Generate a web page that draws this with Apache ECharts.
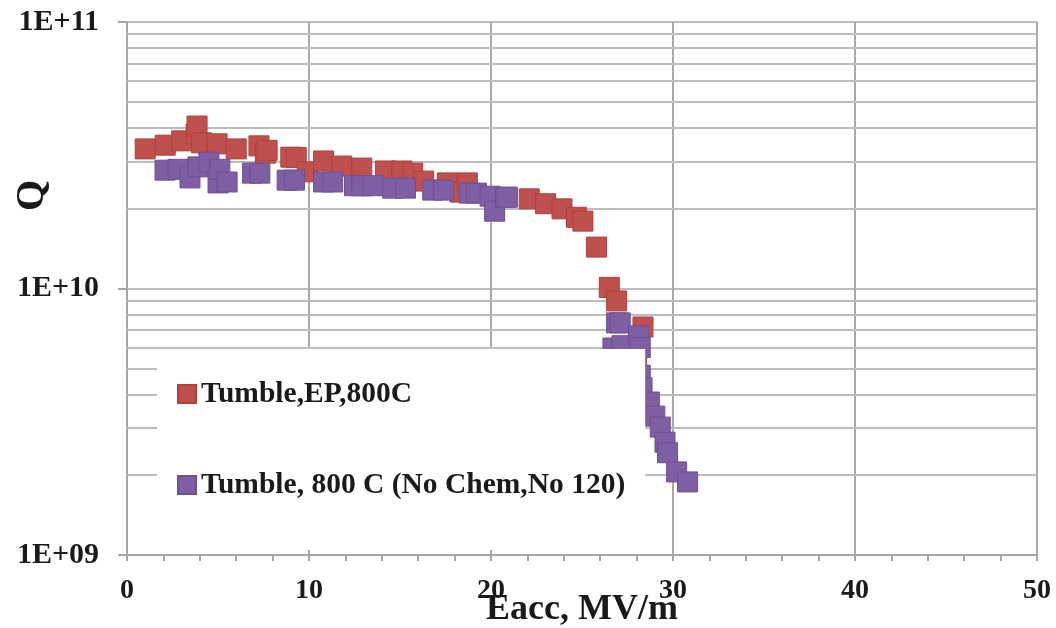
<!DOCTYPE html>
<html>
<head>
<meta charset="utf-8">
<script src="https://cdn.jsdelivr.net/npm/echarts@6/dist/echarts.min.js"></script>
<style>
  html, body { margin: 0; padding: 0; background: #fff; }
  #chart { width: 1056px; height: 628px; }
</style>
</head>
<body>
<div id="chart"></div>
<script>
// Q0 versus accelerating gradient for two tumbled cavity treatments
const seriesNames = ['Tumble,EP,800C', 'Tumble, 800 C (No Chem,No 120)'];

const epEacc = [1.0, 2.1, 3.0, 3.8, 3.85, 4.1, 4.95, 6.0, 7.25, 7.6, 7.7, 9.0, 9.3, 9.9, 10.8,
  11.8, 12.9, 14.2, 15.1, 15.7, 16.3, 17.6, 18.3, 18.7, 22.1, 23.0, 23.9, 24.7, 25.05,
  25.8, 26.5, 26.9, 28.35, 28.0];
const epQ = [3.34e10, 3.45e10, 3.58e10, 3.8e10, 4.07e10, 3.52e10, 3.49e10, 3.34e10, 3.43e10,
  3.22e10, 3.3e10, 3.11e10, 3.1e10, 2.74e10, 3.01e10, 2.88e10, 2.83e10, 2.76e10, 2.76e10,
  2.71e10, 2.53e10, 2.49e10, 2.3e10, 2.49e10, 2.17e10, 2.08e10, 1.99e10, 1.85e10, 1.79e10,
  1.43e10, 1.01e10, 8.98e9, 7.17e9, 5.3e9];

const noChemEacc = [2.09, 2.8, 3.46, 3.9, 4.5, 5.0, 5.1, 5.5, 6.9, 7.3, 8.8, 9.2, 10.8, 11.3,
  12.5, 12.9, 13.5, 14.6, 15.3, 16.8, 17.4, 18.8, 19.2, 19.95, 20.2, 20.8, 20.9, 26.7, 26.9,
  27.1, 27.2, 28.1, 28.2, 28.2, 28.3, 28.7, 29.0, 29.3, 29.56, 29.7, 30.2, 30.8];
const noChemQ = [2.78e10, 2.8e10, 2.6e10, 2.86e10, 2.98e10, 2.49e10, 2.8e10, 2.51e10, 2.71e10,
  2.71e10, 2.55e10, 2.55e10, 2.51e10, 2.51e10, 2.43e10, 2.43e10, 2.43e10, 2.38e10, 2.38e10,
  2.34e10, 2.34e10, 2.28e10, 2.28e10, 2.22e10, 1.95e10, 2.2e10, 2.2e10, 5.98e9, 7.43e9,
  7.43e9, 6.1e9, 6.64e9, 6.0e9, 4.73e9, 4.24e9, 3.75e9, 3.32e9, 3.02e9, 2.65e9, 2.42e9,
  2.05e9, 1.88e9];

// intermediate decade gridlines (2..9 x 10^n)
const minorGridQ = [2e9, 3e9, 4e9, 5e9, 6e9, 7e9, 8e9, 9e9,
  2e10, 3e10, 4e10, 5e10, 6e10, 7e10, 8e10, 9e10];

const serif = '"Liberation Serif", "Times New Roman", serif';
const gridGray = '#bdbdbd';
const axisGray = '#a6a6a6';

const pairs = (xs, ys) => xs.map((x, i) => [x, ys[i]]);

const chart = echarts.init(document.getElementById('chart'), null, { renderer: 'canvas' });

chart.setOption({
  animation: false,
  backgroundColor: '#fff',
  grid: { left: 127, right: 19, top: 22, bottom: 73, containLabel: false, outerBoundsMode: 'none' },
  xAxis: {
    type: 'value',
    min: 0, max: 50, interval: 10,
    name: 'Eacc, MV/m',
    nameLocation: 'middle',
    nameGap: 37,
    nameMoveOverlap: false,
    nameTextStyle: { fontFamily: serif, fontWeight: 'bold', fontSize: 36, color: '#1a1a1a' },
    axisLine: { show: true, lineStyle: { color: axisGray, width: 2 } },
    axisTick: { show: true, length: 6, lineStyle: { color: axisGray, width: 2 } },
    minorTick: { show: true, splitNumber: 5, length: 6, lineStyle: { color: axisGray, width: 2 } },
    axisLabel: { fontFamily: serif, fontWeight: 'bold', fontSize: 28, color: '#1a1a1a', margin: 22 },
    splitLine: { show: true, lineStyle: { color: '#a8a8a8', width: 2 } }
  },
  yAxis: {
    type: 'log',
    logBase: 10,
    min: 1e9, max: 1e11,
    axisLine: { show: true, onZero: false, lineStyle: { color: axisGray, width: 2 } },
    axisTick: { show: true, length: 9, lineStyle: { color: axisGray, width: 2 } },
    axisLabel: {
      fontFamily: serif, fontWeight: 'bold', fontSize: 30, color: '#1a1a1a', margin: 28,
      formatter: v => '1E+' + String(Math.round(Math.log10(v))).padStart(2, '0')
    },
    splitLine: { show: true, lineStyle: { color: gridGray, width: 2 } }
  },
  legend: {
    orient: 'vertical',
    left: 157, top: 349,
    padding: [30, 20, 50, 20],
    backgroundColor: '#fff',
    zlevel: 2,
    itemGap: 61,
    itemWidth: 18, itemHeight: 18,
    icon: 'rect',
    data: seriesNames,
    textStyle: { fontFamily: serif, fontWeight: 'bold', fontSize: 29.5, color: '#1a1a1a', lineHeight: 30 }
  },
  graphic: [{
    type: 'text',
    left: 13, top: 180,
    rotation: Math.PI / 2,
    style: { text: 'Q', font: 'bold 40px ' + serif, fill: '#1a1a1a' }
  }],
  series: [
    {
      name: 'minor-grid',
      type: 'line',
      data: [],
      silent: true,
      markLine: {
        silent: true,
        symbol: ['none', 'none'],
        label: { show: false },
        lineStyle: { color: gridGray, width: 2, type: 'solid' },
        data: minorGridQ.map(q => ({ yAxis: q }))
      }
    },
    {
      name: seriesNames[0],
      type: 'scatter',
      symbol: 'rect',
      symbolSize: 20,
      zlevel: 1,
      itemStyle: { color: '#c0504d', borderColor: '#b0403d', borderWidth: 1, opacity: 1 },
      data: pairs(epEacc, epQ)
    },
    {
      name: seriesNames[1],
      type: 'scatter',
      symbol: 'rect',
      symbolSize: 20,
      zlevel: 1,
      itemStyle: { color: '#7f5fa3', borderColor: '#6e5092', borderWidth: 1, opacity: 1 },
      data: pairs(noChemEacc, noChemQ)
    }
  ]
});
</script>
</body>
</html>
